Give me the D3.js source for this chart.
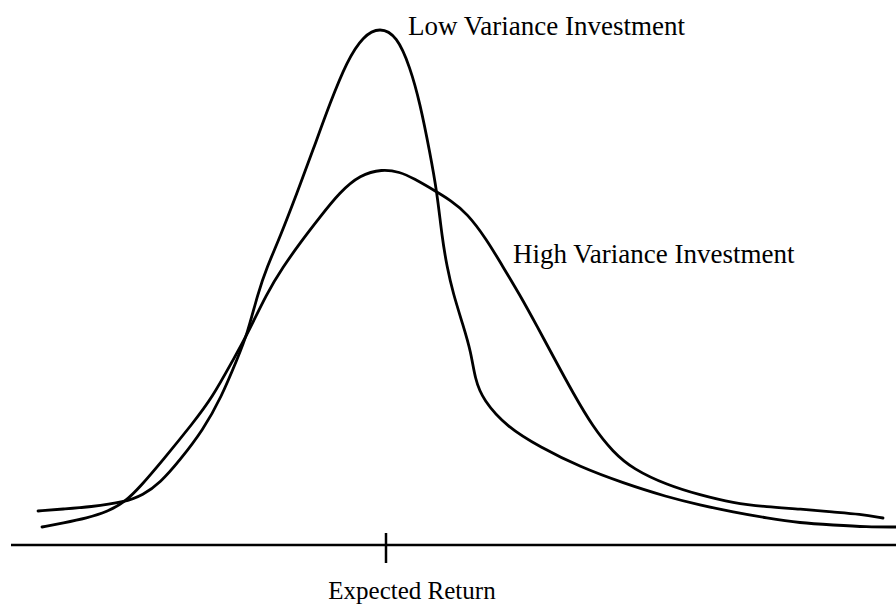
<!DOCTYPE html>
<html>
<head>
<meta charset="utf-8">
<script src="https://cdn.jsdelivr.net/npm/d3@7"></script>
<style>
  body { margin: 0; background: #fff; }
  svg text { font-family: "Liberation Serif", "Times New Roman", serif; fill: #000; }
</style>
</head>
<body>
<div id="chart"></div>
<script>
// return (x) and probability density (y)
const lowRet = [-17.4, -16.15, -14.8, -13.05, -12.15, -11.3, -10.3, -9.15, -8.25, -7.4, -6.95, -6.4, -5.95, -5.3, -4.45, -3.65, -2.8, -1.95, -1.15, -0.3, 0.55, 1.2, 1.7, 2.2, 2.55, 2.8, 3.05, 3.35, 3.85, 4.25, 4.45, 4.85, 6.05, 7.7, 9.7, 11.85, 14.05, 15.7, 17.35, 19.05, 20.7, 22.35, 24.05, 25.5];
const lowDens = [.034, .036, .038, .043, .050, .062, .085, .115, .147, .188, .210, .252, .278, .308, .352, .395, .442, .484, .509, .518, .509, .478, .442, .392, .353, .308, .278, .252, .220, .193, .166, .145, .118, .098, .078, .062, .048, .040, .033, .027, .022, .020, .018, .018];

const highRet = [-17.2, -16.15, -14.95, -13.95, -13.05, -12.3, -11.15, -9.65, -8.7, -7.65, -6.95, -5.95, -5.15, -4.3, -3.3, -2.3, -1.3, -0.2, 0.7, 1.35, 2.55, 3.2, 4.05, 5.05, 5.7, 6.7, 7.6, 8.35, 9.35, 10.35, 11.35, 12.35, 14.05, 15.7, 17.35, 19.05, 20.7, 22.35, 23.7, 24.85];
const highDens = [.018, .022, .027, .033, .043, .058, .085, .122, .147, .185, .210, .252, .278, .302, .328, .353, .370, .376, .373, .367, .353, .345, .332, .305, .283, .250, .217, .189, .152, .118, .093, .076, .060, .050, .042, .038, .036, .033, .031, .027];

const expectedReturn = 0;
const axisFrom = -18.75, axisTo = 25.5;

const width = 896, height = 605;

const svg = d3.select("#chart")
  .append("svg")
    .attr("width", width)
    .attr("height", height);

const x = d3.scaleLinear()
  .domain([-19.3, 25.5])
  .range([0, width]);

const y = d3.scaleLinear()
  .domain([0, 0.545])
  .range([545, 0]);

const line = d3.line()
  .x(d => x(d[0]))
  .y(d => y(d[1]))
  .curve(d3.curveBasis);

const series = [
  d3.zip(lowRet, lowDens),
  d3.zip(highRet, highDens)
];

svg.selectAll("path.curve")
  .data(series)
  .join("path")
    .attr("class", "curve")
    .attr("d", line)
    .attr("fill", "none")
    .attr("stroke", "#000")
    .attr("stroke-width", 2.8)
    .attr("stroke-linecap", "round");

// baseline and the expected return tick
svg.append("line")
  .attr("x1", x(axisFrom)).attr("x2", x(axisTo))
  .attr("y1", y(0)).attr("y2", y(0))
  .attr("stroke", "#000")
  .attr("stroke-width", 2.5);

svg.append("line")
  .attr("x1", x(expectedReturn)).attr("x2", x(expectedReturn))
  .attr("y1", y(0) - 12).attr("y2", y(0) + 18)
  .attr("stroke", "#000")
  .attr("stroke-width", 2.5);

svg.append("text")
  .attr("x", x(expectedReturn) + 26)
  .attr("y", 599)
  .attr("text-anchor", "middle")
  .style("font-size", "25px")
  .text("Expected Return");

svg.append("text")
  .attr("x", 408)
  .attr("y", 35)
  .style("font-size", "27px")
  .text("Low Variance Investment");

svg.append("text")
  .attr("x", 513)
  .attr("y", 263)
  .style("font-size", "27px")
  .text("High Variance Investment");
</script>
</body>
</html>
